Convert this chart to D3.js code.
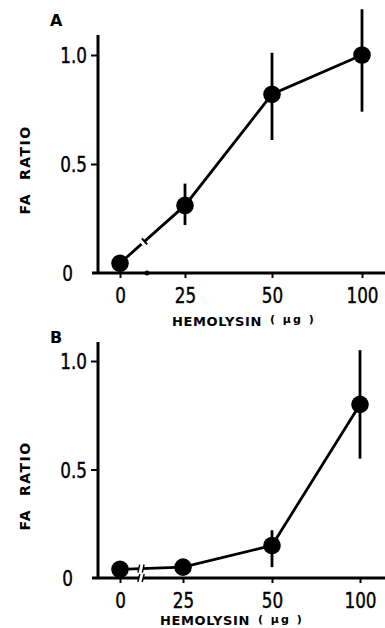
<!DOCTYPE html>
<html><head><meta charset="utf-8">
<script src="https://cdn.jsdelivr.net/npm/d3@7"></script>
<style>
html,body{margin:0;padding:0;background:#fff;}
svg{display:block;}
</style></head>
<body>
<svg id="c" width="385" height="628"></svg>
<script>
// ---- data ----
const categories = ["0", "25", "50", "100"];
const doses = [0, 25, 50, 100];
const yTicks = [0, 0.5, 1.0];
const yTickLabels = ["0", "0.5", "1.0"];
const panelLabels = ["A", "B"];

const meanA = [0.045, 0.31, 0.82, 1.0];
const lowA  = [0.03, 0.22, 0.61, 0.74];
const highA = [0.06, 0.41, 1.01, 1.21];

const meanB = [0.04, 0.05, 0.15, 0.80];
const lowB  = [0.02, 0.03, 0.05, 0.55];
const highB = [0.07, 0.08, 0.22, 1.05];

const xLabel = "HEMOLYSIN";
const xUnit = "( µg )";
const yLabel = "FA  RATIO";

// ---- drawing ----
const svg = d3.select("#c");
const numFont = "'DejaVu Sans Condensed','DejaVu Sans',sans-serif";
const lblFont = "'DejaVu Sans',sans-serif";
const sx = 0.85;

const panels = [
  {label: panelLabels[0], mean: meanA, low: lowA, high: highA,
   y0: 273, y1: 55, axisTop: 35, xr: [120, 185, 272, 362],
   brk: 143, brkStyle: "single", labY: 326, labX: 172, unitX: 270, unitDy: -3, letterY: 26, yLabY: 170},
  {label: panelLabels[1], mean: meanB, low: lowB, high: highB,
   y0: 578, y1: 361, axisTop: 342, xr: [120, 183, 272, 360],
   brk: 141, brkStyle: "double", labY: 625, labX: 160, unitX: 258, unitDy: -2, letterY: 343, yLabY: 486}
];

panels.forEach(p => {
  const g = svg.append("g");
  const x = d3.scaleLinear().domain(doses).range(p.xr);
  const y = d3.scaleLinear().domain([0, 1]).range([p.y0, p.y1]);
  const axX = 98;

  // axes lines
  g.append("line").attr("x1", 92).attr("x2", 385).attr("y1", p.y0).attr("y2", p.y0)
    .attr("stroke", "#000").attr("stroke-width", 3);
  g.append("line").attr("x1", axX).attr("x2", axX).attr("y1", p.axisTop).attr("y2", p.y0 + 1)
    .attr("stroke", "#000").attr("stroke-width", 3);

  // x ticks
  const xAxis = d3.axisBottom(x).tickValues(doses).tickSize(5).tickFormat((d, i) => categories[i]);
  const gx = g.append("g").attr("transform", `translate(0,${p.y0})`).call(xAxis);
  gx.select(".domain").remove();
  gx.selectAll(".tick line").attr("stroke", "#000").attr("stroke-width", 2);
  gx.selectAll(".tick text").attr("font-family", numFont).attr("font-size", 22)
    .attr("fill", "#000").attr("dy", null).attr("y", 30)
    .attr("stroke", "#000").attr("stroke-width", 0.4)
    .attr("transform", `scale(${sx},1)`);

  // y ticks
  const yAxis = d3.axisLeft(y).tickValues(yTicks).tickSize(7).tickFormat((d, i) => yTickLabels[i]);
  const gy = g.append("g").attr("transform", `translate(${axX},0)`).call(yAxis);
  gy.select(".domain").remove();
  gy.selectAll(".tick line").attr("stroke", "#000").attr("stroke-width", 2)
    .attr("display", d => d === 0 ? "none" : null);
  gy.selectAll(".tick text").attr("font-family", numFont).attr("font-size", 22)
    .attr("fill", "#000").attr("stroke", "#000").attr("stroke-width", 0.4)
    .attr("x", d => (d === 0 ? -25 : -11) / sx).attr("dy", "0.36em")
    .attr("transform", `scale(${sx},1)`);

  // data line
  const line = d3.line().x((d, i) => x(doses[i])).y(d => y(d));
  g.append("path").datum(p.mean).attr("d", line)
    .attr("fill", "none").attr("stroke", "#000").attr("stroke-width", 2.8);

  // error bars
  g.selectAll(".err").data(p.mean).enter().append("line")
    .attr("x1", (d, i) => x(doses[i])).attr("x2", (d, i) => x(doses[i]))
    .attr("y1", (d, i) => y(p.low[i])).attr("y2", (d, i) => y(p.high[i]))
    .attr("stroke", "#000").attr("stroke-width", 2.8);

  // markers
  g.selectAll(".pt").data(p.mean).enter().append("circle")
    .attr("cx", (d, i) => x(doses[i])).attr("cy", d => y(d)).attr("r", 8.8)
    .attr("fill", "#000");

  // axis break marks
  const seg = [p.mean[0], p.mean[1]];
  const t = (p.brk - x(doses[0])) / (x(doses[1]) - x(doses[0]));
  const by = y(seg[0] + (seg[1] - seg[0]) * t);
  const bx = p.brk;
  const ang = Math.atan2(y(seg[1]) - y(seg[0]), x(doses[1]) - x(doses[0]));
  function breakAt(cx, cy, a, style) {
    const gb = g.append("g").attr("transform", `translate(${cx},${cy}) rotate(${a * 180 / Math.PI})`);
    gb.append("rect").attr("x", -2).attr("y", -3).attr("width", 4).attr("height", 6).attr("fill", "#fff");
    if (style === "double") {
      [-2.2, 2.2].forEach(o => gb.append("line").attr("x1", o - 1).attr("x2", o + 1).attr("y1", 4).attr("y2", -4)
        .attr("stroke", "#000").attr("stroke-width", 1.4));
    } else {
      gb.append("line").attr("x1", 2).attr("x2", 2).attr("y1", -4).attr("y2", 4)
        .attr("stroke", "#000").attr("stroke-width", 2);
    }
  }
  breakAt(bx, by, ang, p.brkStyle);
  if (p.brkStyle === "double") {
    breakAt(bx, p.y0, 0, "double");
  } else {
    g.append("circle").attr("cx", bx + 4).attr("cy", p.y0).attr("r", 2.5).attr("fill", "#000");
  }

  // panel letter
  g.append("text").attr("x", 50).attr("y", p.letterY).text(p.label)
    .attr("font-family", lblFont).attr("font-weight", "bold").attr("font-size", 16).attr("fill", "#000");

  // y label
  g.append("text").attr("transform", `translate(30,${p.yLabY}) rotate(-90)`)
    .attr("text-anchor", "middle").attr("font-family", lblFont).attr("font-weight", "bold")
    .attr("font-size", 14).attr("letter-spacing", 1.5).attr("fill", "#000")
    .attr("xml:space", "preserve").style("white-space", "pre").text(yLabel);

  // x label
  g.append("text").attr("x", p.labX).attr("y", p.labY).text(xLabel)
    .attr("font-family", lblFont).attr("font-weight", "bold").attr("font-size", 13)
    .attr("letter-spacing", 0.6).attr("fill", "#000");
  g.append("text").attr("x", p.unitX).attr("y", p.labY + p.unitDy).text(xUnit)
    .attr("font-family", lblFont).attr("font-weight", "bold").attr("font-size", 11)
    .attr("letter-spacing", 2).attr("fill", "#000").style("white-space", "pre");
});
</script>
</body></html>
